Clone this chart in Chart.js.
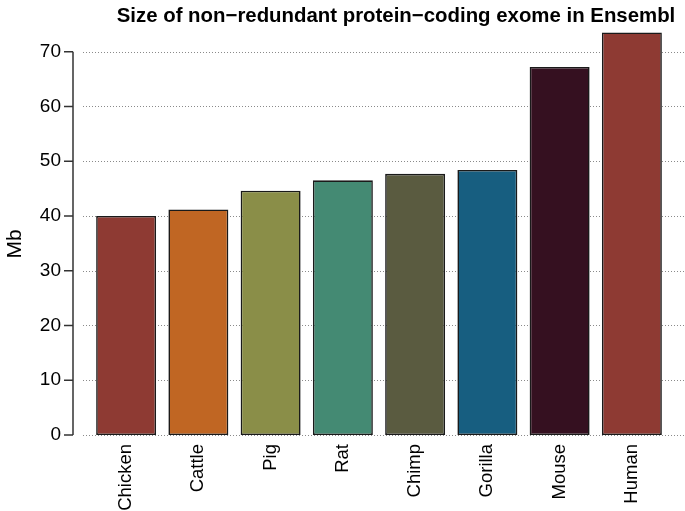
<!DOCTYPE html>
<html>
<head>
<meta charset="utf-8">
<script src="https://cdn.jsdelivr.net/npm/chart.js@4"></script>
<style>
  html, body { margin: 0; padding: 0; background: #fff; }
  #wrap { width: 685px; height: 511px; }
</style>
</head>
<body>
<div id="wrap"><canvas id="grafico" width="685" height="511"></canvas></div>
<script>
// dados
const especies = ['Chicken', 'Cattle', 'Pig', 'Rat', 'Chimp', 'Gorilla', 'Mouse', 'Human'];
const tamanhoMb = [40.0, 41.2, 44.6, 46.5, 47.7, 48.4, 67.2, 73.5];
const coresBarras = ['#8E3A33', '#C06623', '#8A8E48', '#448A73', '#5A5B40', '#175E80', '#351020', '#8E3A33'];
const ticksY = [0, 10, 20, 30, 40, 50, 60, 70];
const titulo = 'Size of non\u2212redundant protein\u2212coding exome in Ensembl';
const tituloY = 'Mb';

const FONTE = '"Liberation Sans", Arial, Helvetica, sans-serif';

// grade pontilhada, eixo y e títulos desenhados à parte (estilo R base)
const extras = {
  id: 'extras',
  beforeDatasetsDraw(chart) {
    const { ctx } = chart;
    const y = chart.scales.y;
    ctx.save();
    ctx.strokeStyle = '#8a8a8a';
    ctx.lineWidth = 1;
    ctx.setLineDash([1, 2]);
    ticksY.forEach(v => {
      const py = Math.round(y.getPixelForValue(v)) + 0.5;
      ctx.beginPath();
      ctx.moveTo(83, py);
      ctx.lineTo(685, py);
      ctx.stroke();
    });
    ctx.restore();
  },
  afterDraw(chart) {
    const { ctx } = chart;
    const y = chart.scales.y;
    ctx.save();
    ctx.strokeStyle = '#333';
    ctx.lineWidth = 1.5;
    const topo = y.getPixelForValue(ticksY[ticksY.length - 1]);
    const base = y.getPixelForValue(0);
    ctx.beginPath();
    ctx.moveTo(73, topo);
    ctx.lineTo(73, base);
    ticksY.forEach(v => {
      const py = y.getPixelForValue(v);
      ctx.moveTo(64, py);
      ctx.lineTo(73, py);
    });
    ctx.stroke();

    ctx.fillStyle = '#000';
    ctx.font = 'bold 20.4px ' + FONTE;
    ctx.textAlign = 'center';
    ctx.textBaseline = 'middle';
    ctx.fillText(titulo, 396, 16);

    ctx.translate(15, 244);
    ctx.rotate(-Math.PI / 2);
    ctx.font = '21px ' + FONTE;
    ctx.fillText(tituloY, 0, 0);
    ctx.restore();
  }
};

new Chart(document.getElementById('grafico'), {
  type: 'bar',
  data: {
    labels: especies,
    datasets: [{
      data: tamanhoMb,
      backgroundColor: coresBarras,
      borderColor: '#1a1a1a',
      borderWidth: 1.6,
      borderSkipped: false,
      categoryPercentage: 1,
      barPercentage: 0.83
    }]
  },
  options: {
    responsive: false,
    animation: false,
    layout: { padding: { top: 24.3, right: 17, bottom: 0, left: 0 } },
    plugins: {
      legend: { display: false },
      tooltip: { enabled: false }
    },
    scales: {
      x: {
        offset: true,
        grid: { display: false, drawTicks: false },
        border: { display: false },
        ticks: {
          minRotation: 90,
          maxRotation: 90,
          padding: 9,
          color: '#000',
          font: { family: FONTE, size: 18.5 }
        },
        afterFit(scale) { scale.height = 76; scale.paddingTop = 0; scale.paddingBottom = 0; }
      },
      y: {
        min: 0,
        max: 75,
        grid: { display: false, drawTicks: false },
        border: { display: false },
        afterBuildTicks(scale) { scale.ticks = ticksY.map(v => ({ value: v })); },
        ticks: {
          padding: 29,
          color: '#000',
          font: { family: FONTE, size: 19 }
        },
        afterFit(scale) { scale.width = 90; scale.paddingTop = 0; scale.paddingBottom = 0; }
      }
    }
  },
  plugins: [extras]
});
</script>
</body>
</html>
